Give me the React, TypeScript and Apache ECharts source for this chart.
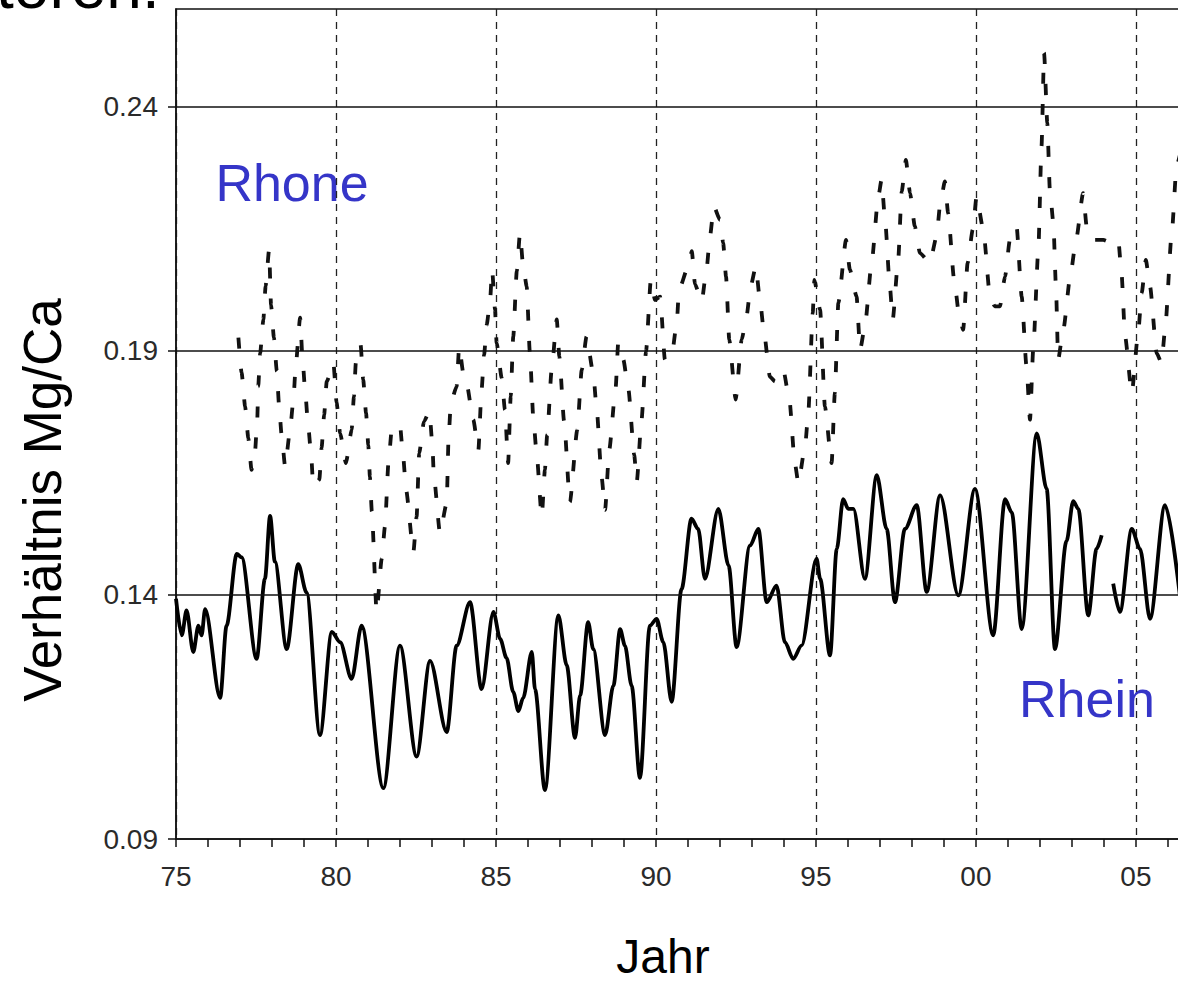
import React, { useEffect, useRef } from 'react';
import * as echarts from 'echarts';

// Rhone (dashed) – Mg/Ca ratio, x = year (75 = 1975, 100 = 2000)
const rhoneYears = [
  76.95, 77.05, 77.16, 77.26, 77.36, 77.47, 77.54, 77.57, 77.63, 77.73, 77.8, 77.91, 77.97, 78.06, 78.15, 78.22, 78.3, 78.41,
  78.56, 78.67, 78.74, 78.88, 78.95, 79.03, 79.12, 79.22, 79.29, 79.48, 79.55, 79.63, 79.71, 79.92, 80.02, 80.13, 80.31,
  80.49, 80.56, 80.62, 80.77, 80.85, 80.94, 81.01, 81.06, 81.12, 81.27, 81.43, 81.53, 81.64, 81.74, 82.0, 82.1, 82.19,
  82.42, 82.52, 82.6, 82.75, 82.92, 83.01, 83.06, 83.25, 83.46, 83.52, 83.59, 83.77, 83.85, 83.98, 84.08, 84.29, 84.45,
  84.55, 84.63, 84.71, 84.81, 84.88, 84.97, 85.02, 85.18, 85.28, 85.38, 85.46, 85.54, 85.65, 85.75, 85.85, 85.96, 86.06,
  86.17, 86.27, 86.43, 86.53, 86.6, 86.74, 86.9, 86.98, 87.13, 87.31, 87.54, 87.68, 87.83, 88.04, 88.15, 88.3, 88.41,
  88.54, 88.74, 88.82, 88.98, 89.14, 89.32, 89.4, 89.55, 89.69, 89.84, 89.97, 90.13, 90.28, 90.49, 90.65, 90.72, 91.01,
  91.12, 91.22, 91.43, 91.58, 91.69, 91.81, 92.0, 92.1, 92.19, 92.29, 92.49, 92.68, 92.83, 92.96, 93.12, 93.25, 93.38,
  93.56, 93.72, 93.98, 94.17, 94.34, 94.45, 94.66, 94.76, 94.9, 94.95, 95.13, 95.28, 95.49, 95.59, 95.7, 95.94, 96.06,
  96.27, 96.38, 96.53, 96.74, 96.95, 97.05, 97.16, 97.31, 97.4, 97.57, 97.68, 97.81, 97.94, 98.09, 98.25, 98.56, 98.77,
  98.88, 99.03, 99.13, 99.32, 99.48, 99.6, 99.74, 99.9, 100.02, 100.23, 100.44, 100.59, 100.75, 100.91, 101.06, 101.27,
  101.43, 101.58, 101.69, 101.79, 101.95, 102.05, 102.13, 102.23, 102.31, 102.42, 102.5, 102.57, 102.73, 102.96, 103.13,
  103.35, 103.46, 103.62, 103.77, 103.98, 104.24, 104.45, 104.55, 104.66, 104.87, 105.07, 105.18, 105.31, 105.44, 105.65,
  105.8, 105.91, 106.12, 106.27, 106.44,
];
const rhoneRatio = [
  0.1927, 0.1855, 0.1786, 0.1721, 0.1656, 0.1694, 0.1759, 0.1827, 0.1895, 0.1964, 0.2032, 0.2107, 0.1994, 0.1927, 0.1858, 0.1789, 0.1728, 0.1663,
  0.1735, 0.18, 0.1868, 0.1968, 0.1888, 0.1824, 0.1755, 0.169, 0.1622, 0.1636, 0.1701, 0.1769, 0.1837, 0.1875, 0.1793, 0.1731, 0.167,
  0.1738, 0.1806, 0.1875, 0.1912, 0.1841, 0.1772, 0.1707, 0.1642, 0.1571, 0.1365, 0.1474, 0.154, 0.167, 0.1738, 0.1748, 0.1683, 0.1615,
  0.1488, 0.156, 0.169, 0.1755, 0.1776, 0.1711, 0.1642, 0.1527, 0.1588, 0.1724, 0.1793, 0.1827, 0.1909, 0.1854, 0.1834, 0.1759, 0.1697,
  0.182, 0.1892, 0.1953, 0.1998, 0.2066, 0.1984, 0.1916, 0.1844, 0.1779, 0.167, 0.1806, 0.1929, 0.2063, 0.2141, 0.2073, 0.2032, 0.1895,
  0.1759, 0.169, 0.156, 0.1656, 0.1728, 0.1861, 0.1964, 0.1888, 0.1755, 0.159, 0.1738, 0.1861, 0.1929, 0.1854, 0.1779, 0.1642, 0.1574,
  0.1697, 0.1824, 0.1916, 0.1882, 0.182, 0.1687, 0.1632, 0.1759, 0.1899, 0.2045, 0.2004, 0.2011, 0.1882, 0.1888, 0.1957, 0.2025, 0.2073,
  0.2104, 0.2036, 0.2001, 0.2066, 0.2135, 0.2196, 0.2168, 0.2121, 0.2052, 0.1923, 0.18, 0.1923, 0.197, 0.2032, 0.2073, 0.2004, 0.1936,
  0.1847, 0.1837, 0.1861, 0.18, 0.167, 0.1629, 0.1704, 0.1772, 0.1977, 0.2045, 0.1984, 0.1786, 0.167, 0.1813, 0.1998, 0.2127, 0.2066,
  0.2011, 0.1902, 0.195, 0.208, 0.2216, 0.225, 0.2168, 0.2032, 0.1964, 0.2086, 0.2226, 0.2291, 0.2223, 0.2155, 0.21, 0.208, 0.2134,
  0.2199, 0.2247, 0.2182, 0.2045, 0.197, 0.1943, 0.208, 0.2148, 0.2216, 0.2148, 0.2011, 0.1991, 0.1991, 0.2052, 0.2127, 0.2155,
  0.2011, 0.1868, 0.1759, 0.1902, 0.2107, 0.2319, 0.251, 0.2367, 0.223, 0.2162, 0.2032, 0.1882, 0.1943, 0.2059, 0.2127,
  0.2223, 0.2155, 0.2127, 0.2127, 0.2127, 0.2121, 0.2127, 0.2059, 0.193, 0.1813, 0.1936, 0.2018, 0.2086, 0.2032, 0.1895,
  0.1875, 0.1943, 0.2141, 0.2278, 0.232,
];

// Rhein (solid) – Mg/Ca ratio; null marks the data gap in 2004
const rheinYears = [
  75.0, 75.18, 75.33, 75.54, 75.7, 75.8, 75.91, 76.38, 76.58, 76.9, 77.05, 77.52, 77.78, 77.94, 78.09, 78.46, 78.82, 79.08,
  79.5, 79.87, 80.13, 80.49, 80.8, 81.48, 82.0, 82.52, 82.94, 83.46, 83.77, 84.19, 84.55, 84.92, 85.13, 85.33, 85.54, 85.7,
  85.85, 86.12, 86.22, 86.53, 86.95, 87.21, 87.47, 87.63, 87.88, 88.04, 88.41, 88.67, 88.88, 89.03, 89.24, 89.5, 89.81,
  90.02, 90.23, 90.49, 90.8, 91.11, 91.32, 91.53, 91.95, 92.27, 92.52, 92.94, 93.2, 93.46, 93.77, 94.03, 94.29, 94.55,
  95.02, 95.13, 95.44, 95.65, 95.85, 96.01, 96.17, 96.53, 96.9, 97.21, 97.47, 97.78, 98.15, 98.46, 98.88, 99.45, 99.97,
  100.54, 100.91, 101.12, 101.43, 101.9, 102.21, 102.47, 102.83, 103.04, 103.2, 103.51, 103.77, 103.93, 104.1, 104.29,
  104.5, 104.87, 105.13, 105.44, 105.91, 106.44,
];
const rheinRatio = [
  0.1392, 0.1317, 0.1368, 0.1283, 0.1337, 0.1317, 0.1371, 0.1189, 0.1337, 0.1484, 0.1477, 0.1269, 0.1433, 0.1562, 0.1468, 0.1289, 0.1463, 0.1405,
  0.1113, 0.1324, 0.1303, 0.1228, 0.1337, 0.1004, 0.1296, 0.1069, 0.1265, 0.1119, 0.1296, 0.1385, 0.1207, 0.1365, 0.131, 0.1271, 0.1201, 0.1162,
  0.1189, 0.1283, 0.1207, 0.1, 0.1358, 0.1256, 0.1107, 0.1194, 0.1344, 0.1289, 0.1113, 0.1214, 0.133, 0.1296, 0.1214, 0.1025, 0.1337,
  0.1351, 0.1303, 0.1181, 0.1412, 0.1556, 0.1535, 0.1433, 0.1576, 0.146, 0.1293, 0.1501, 0.1535, 0.1385, 0.1419, 0.1303, 0.1269, 0.1296,
  0.1474, 0.1433, 0.1276, 0.1494, 0.1596, 0.1576, 0.1576, 0.1433, 0.1645, 0.1535, 0.1385, 0.1535, 0.1584, 0.1406, 0.1604, 0.1399, 0.1617,
  0.1317, 0.1596, 0.1569, 0.133, 0.1731, 0.1617, 0.1289, 0.151, 0.1592, 0.1576, 0.1358, 0.1494, 0.1522, null, 0.1423,
  0.1365, 0.1535, 0.1494, 0.1351, 0.1584, 0.136,
];

const yTickValues = [0.09, 0.14, 0.19, 0.24];
const yGridValues = [0.14, 0.19, 0.24];

const SANS = '"Liberation Sans", Arial, Helvetica, sans-serif';
const BLUE = '#3535c8';

export default function App() {
  const ref = useRef<HTMLDivElement>(null);
  useEffect(() => {
    document.body.style.margin = '0';
    document.body.style.overflow = 'hidden';
    const chart = echarts.init(ref.current!, null, { renderer: 'svg' });
    const rhone = rhoneYears.map((x, i) => [x, rhoneRatio[i]]);
    const rhein = rheinYears.map((x, i) => [x, rheinRatio[i]]);
    const tickLabel = { fontFamily: SANS, fontSize: 28, color: '#2a2a2a' };
    chart.setOption({
      animation: false,
      backgroundColor: '#ffffff',
      grid: {
        left: 176, width: 1006, top: 9, bottom: 145,
        outerBoundsMode: 'none', containLabel: false,
        show: true, borderColor: '#111', borderWidth: 1.5,
      },
      xAxis: {
        type: 'value',
        min: 75,
        max: 106.44,
        interval: 5,
        axisLine: { show: true, lineStyle: { color: '#111', width: 1.5 } },
        axisTick: { show: true, inside: false, length: 8, lineStyle: { color: '#111', width: 1.5 } },
        minorTick: { show: true, splitNumber: 5, length: 8, lineStyle: { color: '#111', width: 1.5 } },
        axisLabel: {
          ...tickLabel,
          margin: 23,
          formatter: (v: number) =>
            Math.abs(v - Math.round(v / 5) * 5) < 1e-6 ? String(Math.round(v) % 100).padStart(2, '0') : '',
        },
        splitLine: { show: true, lineStyle: { type: [7, 6], color: '#222', width: 1.3 } },
      },
      yAxis: {
        type: 'value',
        min: 0.09,
        max: 0.26,
        axisLine: { show: true, lineStyle: { color: '#111', width: 1.5 } },
        axisTick: { show: true, length: 8, customValues: yTickValues, lineStyle: { color: '#111', width: 1.5 } },
        axisLabel: { ...tickLabel, margin: 18, customValues: yTickValues, formatter: (v: number) => v.toFixed(2) },
        splitLine: { show: false },
      },
      series: [
        {
          type: 'line',
          name: 'Rhein',
          data: rhein,
          symbol: 'none',
          smooth: 0.3,
          smoothMonotone: 'x',
          connectNulls: false,
          lineStyle: { color: '#000', width: 3.8, join: 'round' },
          markLine: {
            silent: true,
            symbol: 'none',
            label: { show: false },
            lineStyle: { color: '#111', type: 'solid', width: 1.6 },
            data: yGridValues.map((v) => ({ yAxis: v })),
          },
          z: 3,
        },
        {
          type: 'line',
          name: 'Rhone',
          data: rhone,
          symbol: 'none',
          smooth: 0.2,
          smoothMonotone: 'x',
          lineStyle: { color: '#111', width: 3.8, type: [11, 20], cap: 'butt' },
          z: 3,
        },
      ],
      graphic: [
        { type: 'text', x: -4, y: -46, style: { text: 'toren.', font: `64px ${SANS}`, fill: '#000', align: 'left', verticalAlign: 'top' } },
        { type: 'text', x: 292, y: 183, style: { text: 'Rhone', font: `52px ${SANS}`, fill: BLUE, align: 'center', verticalAlign: 'middle' } },
        { type: 'text', x: 1087, y: 699, style: { text: 'Rhein', font: `52px ${SANS}`, fill: BLUE, align: 'center', verticalAlign: 'middle' } },
        { type: 'text', x: 663, y: 956, style: { text: 'Jahr', font: `48px ${SANS}`, fill: '#000', align: 'center', verticalAlign: 'middle' } },
        {
          type: 'text', x: 42, y: 500, rotation: Math.PI / 2,
          style: { text: 'Verhältnis Mg/Ca', font: `53px ${SANS}`, fill: '#000', align: 'center', verticalAlign: 'middle' },
        },
      ],
    });
    return () => chart.dispose();
  }, []);
  return <div ref={ref} style={{ width: 1178, height: 984, background: '#fff' }} />;
}
